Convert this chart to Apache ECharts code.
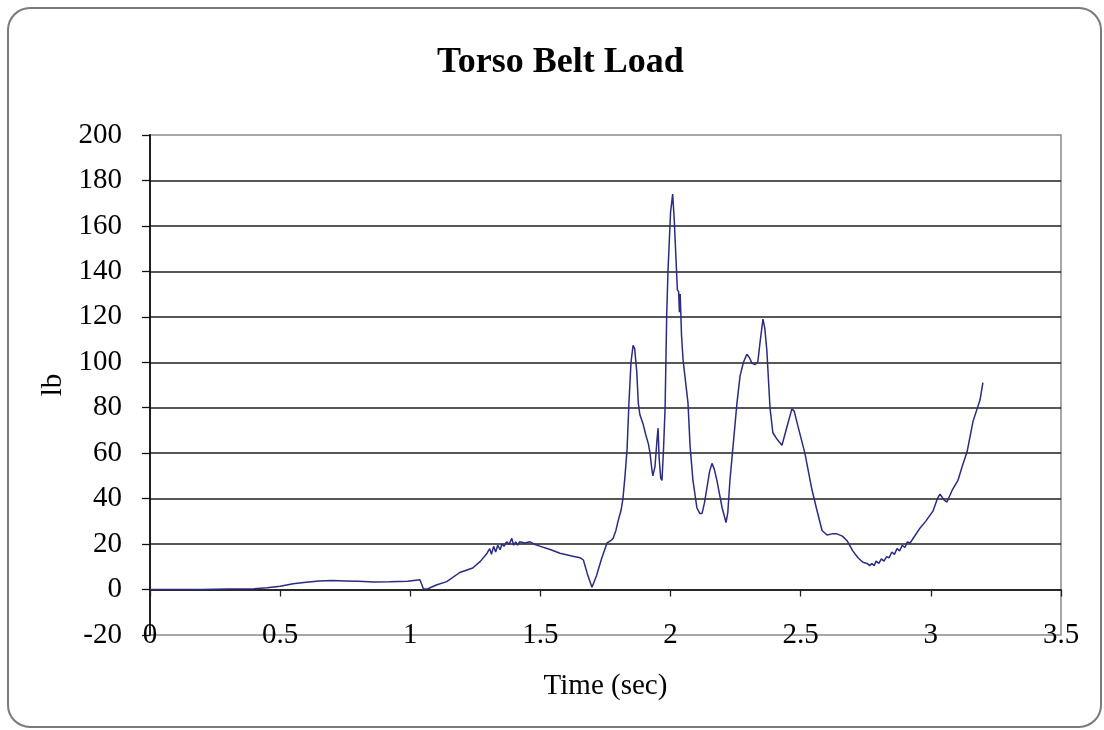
<!DOCTYPE html>
<html>
<head>
<meta charset="utf-8">
<script src="https://cdn.jsdelivr.net/npm/echarts@6/dist/echarts.min.js"></script>
<style>
html,body{margin:0;padding:0;background:#fff;}
#chart{width:1104px;height:730px;}
</style>
</head>
<body>
<div id="chart"></div>
<script>
const titleText = 'Torso Belt Load';
const xName = 'Time (sec)';
const yName = 'lb';

// time (sec)
const timeSec = [
0,0.1,0.2,0.3,0.4,0.45,0.5,0.55,0.6,0.65,0.7,0.75,0.8,0.86,0.92,0.99,1.037,1.045,1.05,1.065,1.076,1.1,1.14,1.19,1.24,1.27,1.295,1.305,1.312,1.32,1.328,1.336,1.345,1.352,1.36,1.37,1.38,1.39,1.397,1.405,1.412,1.42,1.44,1.46,1.48,1.5,1.54,1.575,1.62,1.652,1.665,1.68,1.698,1.715,1.736,1.756,1.77,1.779,1.79,1.798,1.81,1.817,1.825,1.833,1.84,1.848,1.856,1.862,1.87,1.876,1.882,1.894,1.905,1.915,1.921,1.928,1.932,1.94,1.948,1.952,1.956,1.962,1.967,1.973,1.979,1.985,1.99,2.0,2.008,2.014,2.021,2.026,2.031,2.034,2.037,2.042,2.048,2.055,2.067,2.075,2.086,2.101,2.112,2.121,2.13,2.14,2.15,2.159,2.168,2.178,2.188,2.198,2.213,2.22,2.228,2.24,2.255,2.267,2.28,2.293,2.303,2.313,2.325,2.335,2.345,2.355,2.362,2.37,2.382,2.393,2.41,2.428,2.447,2.466,2.475,2.489,2.516,2.543,2.562,2.582,2.601,2.62,2.639,2.66,2.678,2.7,2.72,2.739,2.755,2.765,2.774,2.782,2.79,2.8,2.81,2.82,2.83,2.84,2.85,2.86,2.87,2.88,2.89,2.9,2.91,2.92,2.935,2.958,2.98,3.008,3.025,3.035,3.05,3.062,3.081,3.104,3.12,3.139,3.162,3.189,3.2
];
// torso belt load (lb)
const loadLb = [
0,0,0,0.2,0.3,0.8,1.5,2.5,3.2,3.8,4.0,3.8,3.6,3.3,3.4,3.6,4.3,2,0.3,0.2,0.8,2,3.5,7.5,9.5,12.5,16,18,15.5,19,16.5,19.5,17.5,20,19,21,20,22.5,19.5,21,19.5,21,20.5,21,19.8,19,17.5,16,14.8,14,13,7,1,6,14,20.5,21.5,22.5,26,30,35,40,50,62,82,100,107.5,106,96,82,77,73,68,64,60,53,50,54,66,71,58,49,48,62,80,120,140,166,174,163,145,132,131,122,130,112,101,94,82,63,48,36,33.5,33.5,38,45,52,55.5,53,48,42,36,29.5,34,48,63,82,94,100,103.5,102,99.5,99,100,110,119,115,105,80,69,66,63.5,71.5,79.5,78.5,72,60,44,35,26,24,24.5,24.5,23.5,21.5,17,14,12,11.5,10.5,11.5,10.5,12.5,11.5,13.5,12.5,14.5,14,16.5,15.5,18,17,19.5,18.5,21,20.5,23,27,30,34.5,40,42,39.5,38.5,43.5,48,54,60.5,74,83.5,91
];

const xTicks = { min: 0, max: 3.5, interval: 0.5 };
const yTicks = { min: -20, max: 200, interval: 20 };

const seriesData = timeSec.map((t, i) => [t, loadLb[i]]);
const serif = 'Liberation Serif';

const chart = echarts.init(document.getElementById('chart'), null, { renderer: 'canvas' });
chart.setOption({
  animation: false,
  backgroundColor: '#ffffff',
  graphic: [{
    type: 'rect',
    z: -10,
    shape: { x: 8, y: 8, width: 1093, height: 719, r: 22 },
    style: { fill: '#ffffff', stroke: '#7a7a7a', lineWidth: 2 }
  }],
  title: {
    text: titleText,
    left: 432,
    top: 40,
    textStyle: { fontFamily: serif, fontWeight: 'bold', fontSize: 36, color: '#000' }
  },
  grid: {
    left: 150, right: 43, top: 135, bottom: 95,
    show: true, borderColor: '#8a8a8a', borderWidth: 1.5, backgroundColor: 'transparent'
  },
  xAxis: [{
    type: 'value', min: xTicks.min, max: xTicks.max, interval: xTicks.interval,
    position: 'bottom',
    axisLine: { show: true, onZero: true, lineStyle: { color: '#1a1a1a', width: 1.6 } },
    axisTick: { show: true, inside: false, length: 7, lineStyle: { color: '#222', width: 1.3 } },
    axisLabel: { show: false },
    splitLine: { show: false }
  }, {
    type: 'value', min: xTicks.min, max: xTicks.max, interval: xTicks.interval,
    position: 'bottom',
    axisLine: { show: false, onZero: false },
    axisTick: { show: false },
    axisLabel: { show: true, margin: 0, verticalAlign: 'middle', fontFamily: serif, fontSize: 29, color: '#000' },
    splitLine: { show: false },
    name: xName, nameLocation: 'middle', nameGap: 37,
    nameTextStyle: { fontFamily: serif, fontSize: 29, color: '#000', verticalAlign: 'top' }
  }],
  yAxis: [{
    type: 'value', min: yTicks.min, max: yTicks.max, interval: yTicks.interval,
    axisLine: { show: true, onZero: false, lineStyle: { color: '#111', width: 1.8 } },
    axisTick: { show: true, inside: false, length: 8, lineStyle: { color: '#111', width: 1.3 } },
    axisLabel: { margin: 28, fontFamily: serif, fontSize: 29, color: '#000' },
    splitLine: { show: true, showMinLine: false, showMaxLine: false, lineStyle: { color: '#1f1f1f', width: 1.6 } },
    name: yName, nameLocation: 'middle', nameGap: 80,
    nameTextStyle: { fontFamily: serif, fontSize: 29, color: '#000' }
  }],
  series: [{
    type: 'line',
    xAxisIndex: 0,
    yAxisIndex: 0,
    data: seriesData,
    showSymbol: false,
    symbol: 'none',
    smooth: false,
    lineStyle: { color: '#2b2b80', width: 1.5 },
    z: 5
  }]
});
</script>
</body>
</html>
